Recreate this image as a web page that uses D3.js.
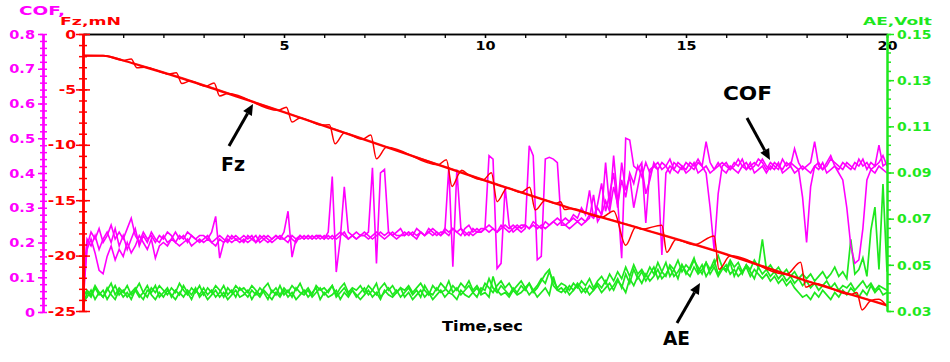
<!DOCTYPE html>
<html>
<head>
<meta charset="utf-8">
<script src="https://cdn.jsdelivr.net/npm/d3@7"></script>
<style>
body{margin:0;background:#fff;}
svg text{font-family:"DejaVu Sans",sans-serif;font-weight:bold;}
</style>
</head>
<body>
<svg width="950" height="362"></svg>
<script>
// sampling step of the COF / AE records, sec
var dt = 0.1;

// COF, three runs
var cofA = [
0.02,0.19,0.23,0.21,0.24,0.20,0.22,0.25,0.21,0.23,
0.21,0.24,0.27,0.22,0.20,0.23,0.21,0.22,0.20,0.22,
0.21,0.23,0.22,0.20,0.22,0.21,0.23,0.22,0.21,0.22,
0.22,0.21,0.23,0.275,0.155,0.20,0.22,0.21,0.22,0.21,
0.22,0.21,0.22,0.20,0.22,0.21,0.22,0.21,0.22,0.21,
0.23,0.29,0.158,0.21,0.22,0.21,0.22,0.21,0.22,0.22,
0.21,0.23,0.39,0.115,0.21,0.36,0.23,0.22,0.21,0.22,
0.22,0.23,0.415,0.14,0.40,0.41,0.23,0.22,0.21,0.22,
0.22,0.23,0.22,0.21,0.23,0.22,0.23,0.22,0.23,0.22,
0.23,0.417,0.13,0.41,0.24,0.22,0.23,0.22,0.23,0.23,
0.24,0.45,0.44,0.125,0.14,0.36,0.25,0.23,0.24,0.23,
0.24,0.478,0.45,0.15,0.16,0.44,0.445,0.44,0.43,0.25,
0.25,0.24,0.25,0.26,0.25,0.26,0.27,0.337,0.26,0.28,
0.43,0.30,0.45,0.32,0.155,0.50,0.495,0.42,0.41,0.43,
0.256,0.41,0.42,0.43,0.41,0.42,0.44,0.41,0.43,0.42,
0.41,0.43,0.42,0.44,0.42,0.49,0.43,0.41,0.42,0.43,
0.42,0.41,0.43,0.42,0.44,0.41,0.42,0.43,0.42,0.44,
0.42,0.41,0.43,0.42,0.41,0.43,0.42,0.47,0.43,0.41,
0.42,0.43,0.49,0.42,0.41,0.43,0.45,0.42,0.41,0.43,
0.42,0.41,0.43,0.42,0.44,0.41,0.43,0.42,0.48,0.42,
0.43];
var cofB = [
0.05,0.18,0.21,0.17,0.12,0.11,0.16,0.19,0.15,0.18,
0.16,0.20,0.17,0.19,0.22,0.20,0.18,0.21,0.155,0.19,
0.20,0.19,0.21,0.20,0.19,0.20,0.21,0.19,0.20,0.21,
0.20,0.21,0.20,0.19,0.21,0.20,0.21,0.20,0.21,0.20,
0.21,0.20,0.21,0.22,0.20,0.21,0.20,0.21,0.22,0.21,
0.21,0.22,0.21,0.20,0.22,0.21,0.22,0.21,0.22,0.21,
0.22,0.21,0.22,0.21,0.22,0.23,0.21,0.22,0.21,0.22,
0.22,0.21,0.22,0.23,0.22,0.21,0.22,0.23,0.22,0.22,
0.23,0.22,0.23,0.22,0.23,0.22,0.24,0.23,0.22,0.23,
0.23,0.22,0.24,0.23,0.24,0.23,0.22,0.24,0.23,0.24,
0.24,0.23,0.24,0.23,0.25,0.24,0.23,0.24,0.25,0.24,
0.25,0.24,0.25,0.24,0.25,0.24,0.25,0.26,0.25,0.26,
0.25,0.26,0.27,0.26,0.27,0.26,0.28,0.27,0.30,0.28,
0.32,0.29,0.36,0.31,0.38,0.33,0.40,0.37,0.42,0.39,
0.43,0.40,0.42,0.41,0.164,0.40,0.42,0.41,0.40,0.42,
0.40,0.41,0.43,0.40,0.41,0.42,0.40,0.41,0.43,0.41,
0.40,0.42,0.41,0.40,0.42,0.41,0.43,0.40,0.41,0.42,
0.40,0.42,0.41,0.43,0.40,0.41,0.42,0.40,0.41,0.42,
0.41,0.40,0.42,0.41,0.43,0.40,0.41,0.42,0.40,0.38,
0.30,0.19,0.14,0.15,0.24,0.38,0.41,0.40,0.42,0.41,
0.40];
var cofC = [
0.08,0.21,0.19,0.22,0.18,0.21,0.23,0.20,0.24,0.19,
0.22,0.18,0.21,0.24,0.19,0.22,0.20,0.23,0.21,0.20,
0.22,0.20,0.21,0.23,0.21,0.22,0.20,0.22,0.21,0.20,
0.21,0.22,0.20,0.21,0.22,0.21,0.20,0.22,0.21,0.21,
0.20,0.22,0.21,0.20,0.21,0.22,0.21,0.20,0.21,0.22,
0.21,0.20,0.22,0.21,0.21,0.22,0.21,0.22,0.21,0.22,
0.21,0.22,0.21,0.22,0.23,0.22,0.21,0.22,0.23,0.22,
0.23,0.22,0.21,0.22,0.23,0.22,0.23,0.22,0.23,0.24,
0.22,0.23,0.22,0.24,0.23,0.22,0.23,0.24,0.23,0.22,
0.24,0.23,0.24,0.23,0.22,0.24,0.25,0.23,0.24,0.23,
0.24,0.25,0.24,0.23,0.24,0.25,0.24,0.25,0.24,0.25,
0.25,0.24,0.26,0.25,0.24,0.26,0.25,0.26,0.27,0.26,
0.27,0.26,0.28,0.27,0.30,0.28,0.35,0.27,0.31,0.37,
0.29,0.34,0.40,0.30,0.43,0.35,0.39,0.30,0.36,0.42,
0.34,0.38,0.43,0.41,0.43,0.42,0.40,0.43,0.42,0.41,
0.43,0.42,0.41,0.43,0.42,0.40,0.30,0.178,0.34,0.42,
0.43,0.41,0.42,0.44,0.42,0.43,0.41,0.42,0.44,0.43,
0.41,0.43,0.42,0.41,0.44,0.42,0.43,0.42,0.41,0.33,
0.20,0.36,0.42,0.43,0.41,0.42,0.44,0.43,0.42,0.41,
0.43,0.42,0.41,0.44,0.42,0.43,0.41,0.42,0.43,0.45,
0.42];

// AE, Volt, three runs
var aeA = [
0.032,0.038,0.036,0.040,0.037,0.039,0.035,0.038,0.041,0.037,
0.039,0.036,0.038,0.040,0.037,0.035,0.039,0.038,0.041,0.036,
0.038,0.040,0.036,0.039,0.037,0.041,0.038,0.035,0.039,0.037,
0.040,0.037,0.039,0.036,0.038,0.041,0.037,0.039,0.036,0.040,
0.038,0.036,0.039,0.037,0.040,0.038,0.035,0.039,0.037,0.041,
0.037,0.039,0.036,0.040,0.038,0.037,0.039,0.036,0.038,0.040,
0.037,0.039,0.041,0.036,0.038,0.040,0.037,0.039,0.036,0.038,
0.040,0.037,0.039,0.042,0.036,0.038,0.040,0.037,0.039,0.036,
0.038,0.040,0.037,0.039,0.036,0.041,0.038,0.037,0.040,0.038,
0.039,0.043,0.038,0.040,0.037,0.039,0.041,0.038,0.036,0.040,
0.039,0.044,0.040,0.038,0.041,0.039,0.037,0.040,0.038,0.041,
0.039,0.042,0.038,0.040,0.043,0.046,0.048,0.041,0.039,0.040,
0.038,0.041,0.039,0.042,0.040,0.038,0.041,0.039,0.042,0.040,
0.043,0.039,0.041,0.044,0.040,0.046,0.042,0.048,0.044,0.047,
0.043,0.046,0.049,0.044,0.047,0.051,0.045,0.048,0.044,0.050,
0.046,0.049,0.053,0.047,0.050,0.045,0.048,0.052,0.046,0.049,
0.047,0.051,0.045,0.049,0.046,0.050,0.047,0.044,0.049,0.046,
0.048,0.045,0.047,0.044,0.046,0.043,0.045,0.042,0.044,0.041,
0.043,0.040,0.042,0.039,0.041,0.043,0.040,0.042,0.039,0.041,
0.040,0.042,0.039,0.041,0.043,0.040,0.042,0.039,0.041,0.040,
0.039];
var aeB = [
0.034,0.036,0.039,0.035,0.038,0.036,0.040,0.037,0.035,0.039,
0.036,0.038,0.035,0.039,0.036,0.038,0.041,0.037,0.035,0.038,
0.036,0.039,0.037,0.035,0.038,0.036,0.039,0.037,0.040,0.036,
0.038,0.035,0.037,0.039,0.036,0.038,0.035,0.037,0.039,0.036,
0.037,0.039,0.035,0.038,0.036,0.039,0.037,0.035,0.038,0.036,
0.039,0.036,0.038,0.035,0.037,0.039,0.036,0.038,0.040,0.035,
0.038,0.036,0.037,0.039,0.035,0.038,0.036,0.039,0.037,0.035,
0.037,0.039,0.036,0.038,0.035,0.039,0.037,0.036,0.038,0.040,
0.036,0.038,0.035,0.037,0.039,0.036,0.038,0.035,0.037,0.039,
0.036,0.038,0.037,0.035,0.039,0.037,0.036,0.038,0.040,0.037,
0.038,0.036,0.045,0.039,0.037,0.038,0.036,0.039,0.037,0.038,
0.040,0.037,0.039,0.036,0.038,0.040,0.037,0.045,0.039,0.038,
0.040,0.037,0.039,0.041,0.038,0.040,0.037,0.039,0.041,0.038,
0.040,0.042,0.039,0.043,0.041,0.038,0.044,0.041,0.045,0.042,
0.046,0.043,0.045,0.048,0.044,0.046,0.049,0.045,0.047,0.050,
0.047,0.045,0.049,0.046,0.048,0.051,0.046,0.049,0.045,0.048,
0.050,0.046,0.048,0.045,0.047,0.049,0.045,0.048,0.046,0.044,
0.046,0.043,0.045,0.042,0.044,0.041,0.043,0.040,0.038,0.036,
0.037,0.035,0.038,0.036,0.039,0.037,0.035,0.038,0.036,0.039,
0.037,0.040,0.038,0.036,0.039,0.037,0.041,0.038,0.040,0.037,
0.038];
var aeC = [
0.036,0.039,0.037,0.041,0.038,0.036,0.039,0.042,0.037,0.040,
0.038,0.041,0.037,0.039,0.042,0.038,0.036,0.040,0.038,0.041,
0.039,0.037,0.040,0.038,0.042,0.039,0.037,0.040,0.038,0.041,
0.037,0.040,0.038,0.041,0.039,0.036,0.040,0.038,0.041,0.039,
0.040,0.038,0.041,0.039,0.037,0.040,0.042,0.038,0.040,0.037,
0.040,0.038,0.041,0.039,0.042,0.038,0.040,0.037,0.041,0.039,
0.040,0.038,0.041,0.037,0.040,0.042,0.038,0.040,0.039,0.041,
0.038,0.041,0.039,0.037,0.040,0.042,0.039,0.041,0.038,0.040,
0.039,0.041,0.038,0.040,0.042,0.039,0.037,0.041,0.039,0.042,
0.040,0.038,0.041,0.039,0.042,0.040,0.043,0.039,0.041,0.038,
0.042,0.040,0.038,0.041,0.043,0.040,0.042,0.039,0.041,0.043,
0.040,0.042,0.039,0.041,0.044,0.042,0.047,0.043,0.040,0.042,
0.041,0.039,0.042,0.040,0.043,0.041,0.044,0.040,0.043,0.045,
0.042,0.046,0.043,0.047,0.044,0.049,0.045,0.050,0.046,0.048,
0.045,0.049,0.046,0.051,0.047,0.045,0.050,0.048,0.052,0.047,
0.050,0.048,0.052,0.049,0.046,0.051,0.048,0.050,0.054,0.049,
0.048,0.052,0.049,0.051,0.047,0.050,0.048,0.052,0.049,0.061,
0.048,0.050,0.047,0.049,0.046,0.048,0.045,0.047,0.044,0.046,
0.044,0.046,0.043,0.045,0.047,0.044,0.046,0.049,0.045,0.047,
0.044,0.061,0.046,0.048,0.053,0.045,0.065,0.075,0.048,0.085,
0.047];

// Fz, mN: two smooth runs and one run with stick-slip bumps
var fzTime = [0,0.5,1,1.5,2,2.5,3.5,5,6.8,8.5,10.3,12,13.8,16,18,20];
var fzMain = [-1.96,-1.96,-2.4,-2.95,-3.5,-4.06,-5.26,-7.07,-9.3,-11.4,-13.6,-15.6,-17.5,-19.9,-22.3,-24.5];
var fzMain2 = [-1.9,-1.92,-2.35,-2.88,-3.42,-3.98,-5.18,-7.0,-9.22,-11.33,-13.52,-15.52,-17.43,-19.82,-22.22,-24.42];
var fzBumpTime = [0,0.5,1.0,1.2,1.34,1.54,2.0,2.11,2.32,2.46,2.66,3.05,3.26,3.4,3.6,4.85,5.06,5.2,5.4,5.92,6.13,6.27,6.5,
  6.95,7.16,7.3,7.55,8.83,9.04,9.18,9.35,9.42,9.6,9.95,10.16,10.3,10.55,10.9,11.11,11.25,11.5,11.75,11.88,11.98,12.15,
  12.9,13.2,13.5,13.75,13.9,14.4,14.52,14.75,15.2,15.7,15.82,16.1,17.5,17.85,17.98,18.2,19.1,19.25,19.38,19.6,19.8,20];
var fzBump = [-1.96,-1.96,-2.4,-2.26,-3.04,-2.99,-3.5,-3.62,-3.5,-4.47,-4.25,-4.72,-4.43,-5.59,-5.38,-6.89,-6.6,-7.95,-7.57,-8.21,-8.2,-9.9,-8.93,
  -9.49,-9.11,-11.27,-10.23,-11.8,-11.34,-13.76,-12.6,-12.3,-12.74,-13.17,-12.53,-15.13,-13.89,-14.31,-13.83,-15.89,-15.01,-15.3,-15.15,-15.85,-15.76,
  -16.55,-15.97,-19.07,-17.45,-17.61,-17.25,-19.7,-18.54,-19.03,-18.22,-21.23,-20.02,-21.7,-20.59,-22.85,-22.52,-23.51,-23.32,-24.9,-24.06,-23.95,-24.6];

// tick labels
var timeTicks = [5,10,15,20];
var cofTicks = [0,0.1,0.2,0.3,0.4,0.5,0.6,0.7,0.8];
var fzTicks = [0,-5,-10,-15,-20,-25];
var aeTicks = [0.03,0.05,0.07,0.09,0.11,0.13,0.15];

var magenta = "#ff00ff", red = "#ff0000", green = "#1ee81e";

var svg = d3.select("svg");
svg.append("rect").attr("width",950).attr("height",362).attr("fill","#fff");

var x = d3.scaleLinear().domain([0,20]).range([83,887]);
var yCof = d3.scaleLinear().domain([0,0.8]).range([312,34]);
var yFz = d3.scaleLinear().domain([-25,0]).range([311,34]);
var yAe = d3.scaleLinear().domain([0.03,0.15]).range([311,34]);

svg.append("clipPath").attr("id","plot")
  .append("rect").attr("x",83).attr("y",34).attr("width",804).attr("height",278);

var plot = svg.append("g").attr("clip-path","url(#plot)");

function sampled(arr, yScale){
  return d3.line()
    .x(function(d,i){ return x(i*dt); })
    .y(function(d){ return yScale(d); })(arr);
}
var fzLine = d3.line()
  .x(function(d){ return x(d[0]); })
  .y(function(d){ return yFz(d[1]); })
  .curve(d3.curveMonotoneX);

// AE under, COF, then Fz on top
[aeA, aeB, aeC].forEach(function(s){
  plot.append("path").attr("d", sampled(s, yAe))
    .attr("fill","none").attr("stroke",green).attr("stroke-width",1.7);
});
[cofA, cofB, cofC].forEach(function(s){
  plot.append("path").attr("d", sampled(s, yCof))
    .attr("fill","none").attr("stroke",magenta).attr("stroke-width",1.6);
});
plot.append("path").attr("d", fzLine(d3.zip(fzTime, fzMain2)))
  .attr("fill","none").attr("stroke",red).attr("stroke-width",1.2).attr("opacity",0.85);
plot.append("path").attr("d", fzLine(d3.zip(fzBumpTime, fzBump)))
  .attr("fill","none").attr("stroke",red).attr("stroke-width",1.5);
plot.append("path").attr("d", fzLine(d3.zip(fzTime, fzMain)))
  .attr("fill","none").attr("stroke",red).attr("stroke-width",2);

// stretch text horizontally like the wide font of the original
function stretch(sel, k){
  sel.each(function(){
    var w = this.getComputedTextLength();
    d3.select(this).attr("textLength", w*k).attr("lengthAdjust","spacingAndGlyphs");
  });
}

// time axis on top
var gx = svg.append("g").attr("transform","translate(0,34)");
gx.call(d3.axisBottom(x).tickValues(d3.range(1,21)).tickSize(4).tickSizeOuter(0).tickFormat(""));
var gx2 = svg.append("g").attr("transform","translate(0,34)");
gx2.call(d3.axisBottom(x).tickValues(timeTicks).tickSize(4).tickSizeOuter(0).tickPadding(3).tickFormat(d3.format("d")));
[gx, gx2].forEach(function(g){
  g.select(".domain").attr("stroke","#000").attr("stroke-width",1.5);
  g.selectAll(".tick line").attr("stroke","#000").attr("stroke-width",1.3);
});
gx2.selectAll("text").attr("fill","#000").attr("font-size",12).call(stretch,1.2);

// COF axis (left)
var cofMinor = d3.range(0,41).map(function(i){ return i*0.02; });
var gc = svg.append("g").attr("transform","translate(43,0)");
gc.call(d3.axisRight(yCof).tickValues(cofMinor).tickSize(4).tickSizeOuter(0).tickFormat(""));
gc.append("g").call(d3.axisLeft(yCof).tickValues(cofMinor).tickSize(3).tickSizeOuter(0).tickFormat(""));
gc.append("g").call(d3.axisLeft(yCof).tickValues(cofTicks).tickSize(5).tickSizeOuter(0).tickPadding(3)
  .tickFormat(function(d){ return d===0 ? "0" : d3.format(".1f")(d); }));
gc.selectAll(".domain").attr("stroke",magenta).attr("stroke-width",2);
gc.selectAll(".tick line").attr("stroke",magenta).attr("stroke-width",1.5);
gc.selectAll("text").attr("fill",magenta).attr("font-size",13).call(stretch,1.12);

// Fz axis
var fzMinor = d3.range(-25,1);
var gf = svg.append("g").attr("transform","translate(83,0)");
gf.call(d3.axisRight(yFz).tickValues(fzMinor).tickSize(4).tickSizeOuter(0).tickFormat(""));
gf.append("g").call(d3.axisLeft(yFz).tickValues(fzMinor).tickSize(4).tickSizeOuter(0).tickFormat(""));
gf.append("g").call(d3.axisRight(yFz).tickValues(fzTicks).tickSize(7).tickSizeOuter(0).tickFormat(""));
gf.append("g").call(d3.axisLeft(yFz).tickValues(fzTicks).tickSize(7).tickSizeOuter(0).tickPadding(0)
  .tickFormat(function(d){ return String(d); }));
gf.selectAll(".domain").attr("stroke",red).attr("stroke-width",2);
gf.selectAll(".tick line").attr("stroke",red).attr("stroke-width",1.5);
gf.selectAll("text").attr("fill",red).attr("font-size",13).call(stretch,1.2);

// AE axis (right)
var aeMinor = d3.range(0,31).map(function(i){ return 0.03 + i*0.004; });
var ga = svg.append("g").attr("transform","translate(887,0)");
ga.call(d3.axisRight(yAe).tickValues(aeMinor).tickSize(4).tickSizeOuter(0).tickFormat(""));
ga.append("g").call(d3.axisRight(yAe).tickValues(aeTicks).tickSize(7).tickSizeOuter(0).tickPadding(3)
  .tickFormat(d3.format(".2f")));
ga.selectAll(".domain").attr("stroke",green).attr("stroke-width",2);
ga.selectAll(".tick line").attr("stroke",green).attr("stroke-width",1.5);
ga.selectAll("text").attr("fill",green).attr("font-size",13).call(stretch,1.08);

// axis titles
function title(txt, tx, ty, w, col, size){
  svg.append("text").attr("x",tx).attr("y",ty).attr("fill",col).attr("font-size",size)
    .attr("textLength",w).attr("lengthAdjust","spacingAndGlyphs").text(txt);
}
title("COF,", 19, 15, 46, magenta, 12);
title("Fz,mN", 60, 25, 61, red, 11);
title("AE,Volt", 863, 25, 69, green, 11);
title("Time,sec", 442, 331, 81, "#000", 14);

// annotations
function arrow(x1,y1,x2,y2){
  var a = Math.atan2(y2-y1, x2-x1), L = 11, W = 5;
  var bx = x2 - L*Math.cos(a), by = y2 - L*Math.sin(a);
  svg.append("line").attr("x1",x1).attr("y1",y1).attr("x2",bx).attr("y2",by)
    .attr("stroke","#000").attr("stroke-width",3);
  svg.append("path")
    .attr("d","M"+x2+","+y2+"L"+(bx+W*Math.sin(a))+","+(by-W*Math.cos(a))+"L"+(bx-W*Math.sin(a))+","+(by+W*Math.cos(a))+"Z")
    .attr("fill","#000");
}
arrow(229,146,253,104);
arrow(747,118,770,160);
arrow(677,323,700,283);
svg.append("text").attr("x",221).attr("y",171).attr("font-size",19).attr("font-family","Liberation Sans, Arial, sans-serif")
  .attr("textLength",24).attr("lengthAdjust","spacingAndGlyphs").text("Fz");
svg.append("text").attr("x",723).attr("y",100).attr("font-size",20).attr("font-family","Liberation Sans, Arial, sans-serif")
  .attr("textLength",49).attr("lengthAdjust","spacingAndGlyphs").text("COF");
svg.append("text").attr("x",663).attr("y",345).attr("font-size",20).attr("font-family","Liberation Sans, Arial, sans-serif")
  .attr("textLength",27).attr("lengthAdjust","spacingAndGlyphs").text("AE");
</script>
</body>
</html>
